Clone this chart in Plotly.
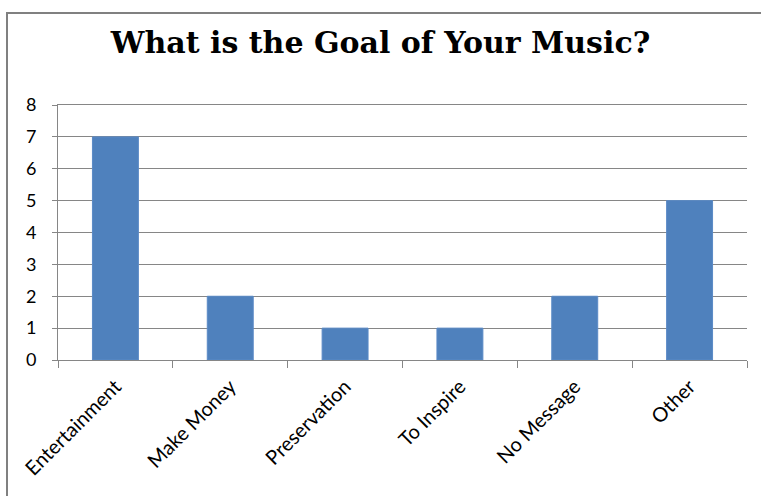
import plotly.graph_objects as go

categories = ["Entertainment", "Make Money", "Preservation", "To Inspire", "No Message", "Other"]
values = [7, 2, 1, 1, 2, 5]
y_ticks = [0, 1, 2, 3, 4, 5, 6, 7, 8]

W, H = 761, 496
L, R, T, B = 58, 14, 105, 136
pw, ph = W - L - R, H - T - B

fig = go.Figure(go.Bar(
    x=categories, y=values,
    marker=dict(color="#4F81BD", line=dict(color="#5A8AC6", width=1)),
    width=0.4,
))

fig.update_layout(
    width=W, height=H,
    margin=dict(l=L, r=R, t=T, b=B, pad=0),
    paper_bgcolor="white", plot_bgcolor="white",
    showlegend=False,
    title=dict(
        text="<b>What is the Goal of Your Music?</b>",
        font=dict(family="DejaVu Serif", size=30, color="black"),
        x=0.5, xanchor="center", xref="container",
        y=(H - 42) / H, yanchor="middle",
    ),
    font=dict(family="Lato, Liberation Sans", size=16, color="black"),
    xaxis=dict(
        type="category",
        tickangle=-45,
        showline=True, mirror=True, linecolor="#868686", linewidth=1,
        ticks="outside", ticklen=7, tickcolor="#868686", tickson="boundaries",
        showgrid=False,
        ticklabelstandoff=6,
        tickfont=dict(family="Lato, Liberation Sans", size=20, color="black"),
        range=[-0.5, 5.5],
    ),
    yaxis=dict(
        range=[0, 8], tickvals=y_ticks,
        showline=True, linecolor="#868686", linewidth=1,
        ticks="outside", ticklen=5, tickcolor="#868686",
        showgrid=True, gridcolor="#868686", gridwidth=1,
        zeroline=False,
        ticklabelstandoff=12,
        tickfont=dict(family="Lato, Liberation Sans", size=18, color="black"),
    ),
    shapes=[dict(
        type="rect", xref="paper", yref="paper",
        x0=(7 - L) / pw, x1=(W + 10 - L) / pw,
        y0=-(H + 10 - (T + ph)) / ph, y1=(T + ph - 13) / ph,
        line=dict(color="#808080", width=2),
        fillcolor="rgba(0,0,0,0)", layer="below",
    )],
)

fig.write_html("out.html")
